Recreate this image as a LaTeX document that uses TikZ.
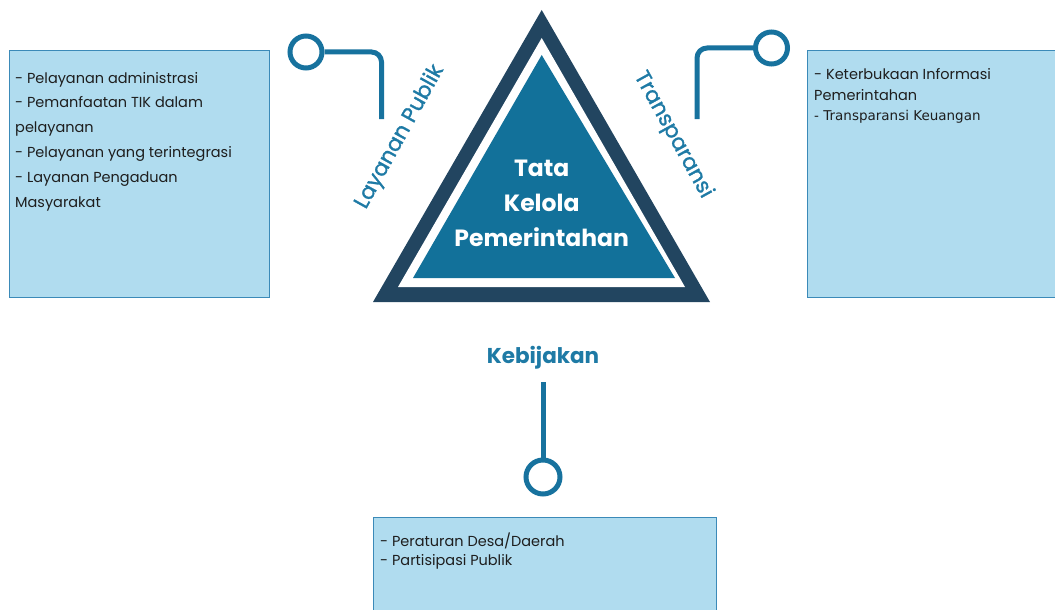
\documentclass[tikz,border=0pt]{standalone}
\usepackage{fontspec}
\setmainfont{Poppins}
\newfontfamily\plainsans{DejaVu Sans}
\newfontfamily\pillarfont{Poppins}[FakeBold=1.2]
\definecolor{navy}{HTML}{224560}
\definecolor{core}{HTML}{12719A}
\definecolor{wire}{HTML}{17729E}
\definecolor{label}{HTML}{1E7AA5}
\definecolor{boxfill}{HTML}{B0DCEF}
\definecolor{boxline}{HTML}{3B8AB8}
\definecolor{ink}{HTML}{1E1E1E}
\begin{document}
\begin{tikzpicture}[x=1pt,y=-1pt,
  infobox/.style={draw=boxline,line width=1pt,fill=boxfill},
  boxtext/.style={anchor=base west,inner sep=0pt,align=left,text=ink},
  wireline/.style={draw=wire,line width=5pt},
  ring/.style={circle,draw=wire,line width=5pt,fill=white,inner sep=0pt,minimum size=#1},
  pillar/.style={text=label,inner sep=0pt,font=\pillarfont\fontsize{21.5}{24}\selectfont}]
\useasboundingbox (0,0) rectangle (1055,610);
\clip (0,0) rectangle (1055,610);

% information boxes (multi-line texts are placed by the baseline of their last line)
\draw[infobox] (9,51) rectangle (269,297);
\draw[infobox] (807,51) rectangle (1060,297);
\draw[infobox] (373,517) rectangle (716,615);

\node[boxtext,font=\fontsize{14.5}{24.8}\selectfont] (ltext) at (15,207)
  {- Pelayanan administrasi\\- Pemanfaatan TIK dalam\\pelayanan\\- Pelayanan yang terintegrasi\\- Layanan Pengaduan\\Masyarakat};
\node[boxtext,font=\fontsize{14.5}{20}\selectfont] (rtext) at (814,120)
  {- Keterbukaan Informasi\\Pemerintahan\\{\plainsans\fontsize{13.5}{20}\selectfont - Transparansi Keuangan}};
\node[boxtext,font=\fontsize{14.5}{19}\selectfont] (btext) at (380,565)
  {- Peraturan Desa/Daerah\\- Partisipasi Publik};

% central triangle
\fill[navy] (541.7,10) -- (710,302) -- (373,302) -- cycle;
\fill[white] (541.7,38) -- (685,287) -- (398,287) -- cycle;
\fill[core] (541.7,55) -- (675,278) -- (413,278) -- cycle;
\node[text=white,font=\bfseries\fontsize{23.5}{35}\selectfont,align=center,anchor=base,inner sep=0pt]
  (core) at (541.7,246) {Tata\\Kelola\\Pemerintahan};

% pillar labels
\node[pillar,rotate=61] (lp) at (400,137) {Layanan Publik};
\node[pillar,rotate=-61] (tp) at (673,135) {Transparansi};
\node[pillar,font=\bfseries\fontsize{21.5}{24}\selectfont,anchor=base] (kb) at (543,363) {Kebijakan};

% connectors
\node[ring=32] (lring) at (306,52) {};
\coordinate (lend) at (381.5,119);
\draw[wireline,rounded corners=10] (lring.east) -| (lend);

\node[ring=32] (rring) at (771.5,48) {};
\coordinate (rend) at (697,119);
\draw[wireline,rounded corners=10] (rring.west) -| (rend);

\coordinate (btop) at (543,382);
\node[ring=34] (bring) at (543,477) {};
\draw[wireline] (btop) -- (bring.north);
\end{tikzpicture}
\end{document}
